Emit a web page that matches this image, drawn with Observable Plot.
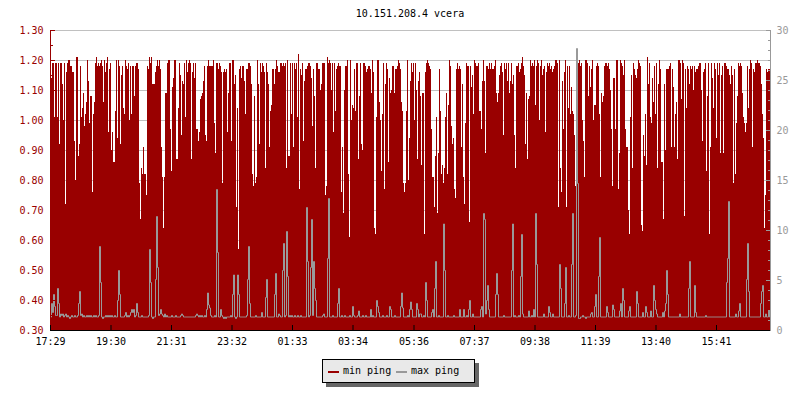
<!DOCTYPE html>
<html>
<head>
<meta charset="utf-8">
<script src="https://cdn.jsdelivr.net/npm/d3@7"></script>
<script src="https://cdn.jsdelivr.net/npm/@observablehq/plot@0.6"></script>
<style>
  body { margin: 0; background: #fff; }
  #wrap { position: relative; width: 800px; height: 400px; font-family: "DejaVu Sans Mono", monospace; font-size: 10px; color: #000; }
  #chart { position: absolute; left: 0; top: 0; }
  #title { position: absolute; left: 0; width: 820px; top: 7px; line-height: 14px; text-align: center; white-space: pre; }
  #legend { position: absolute; left: 322px; top: 359px; width: 153px; height: 24px; box-sizing: border-box;
            border: 1px solid #000; background: #e9e9e9; box-shadow: 4px 4px 0 #666; }
  #legend .sw { position: absolute; top: 11px; width: 11px; height: 2px; }
  #legend .lb { position: absolute; top: 0; line-height: 22px; white-space: pre; }
</style>
</head>
<body>
<div id="wrap">
  <div id="chart"></div>
  <div id="title"></div>
  <div id="legend"></div>
</div>
<script>
// ---- data ----
const title = "10.151.208.4 vcera";
const stepMinutes = 2;           // one sample every 2 minutes over 24 h
const startLabel = "17:29";
const xTickLabels = ["17:29","19:30","21:31","23:32","01:33","03:34","05:36","07:37","09:38","11:39","13:40","15:41"];
const leftTicks = [0.30,0.40,0.50,0.60,0.70,0.80,0.90,1.00,1.10,1.20,1.30];
const leftMinorTicks = [0.35,0.45,0.55,0.65,0.75,0.85,0.95,1.05,1.15,1.25];
const rightTicks = [0,5,10,15,20,25,30];
const rightMinorTicks = [0,1,2,3,4,5,6,7,8,9,10,11,12,13,14,15,16,17,18,19,20,21,22,23,24,25,26,27,28,29,30];
const seriesNames = ["min ping", "max ping"];
const seriesColors = ["#990000", "#999999"];

const minPing = [
  1.17,1.14,1.19,1.19,1.01,1.19,1.19,1.01,1.19,0.92,1.19,1.19,1.12,1.00,1.19,0.72,1.16,1.19,1.20,1.20,
  1.18,1.18,1.16,1.16,0.93,0.80,1.21,1.21,0.88,0.92,1.18,1.01,1.04,1.09,0.98,1.02,1.06,1.20,1.13,0.99,
  1.08,1.08,0.76,1.02,1.06,1.19,1.21,1.18,1.19,1.18,1.19,1.20,1.18,1.06,1.20,1.16,1.19,1.21,0.96,1.17,
  1.19,0.90,0.96,0.86,0.86,1.03,1.20,0.94,1.20,1.18,0.92,1.15,1.18,1.04,1.02,1.20,1.18,1.17,1.19,1.00,
  1.18,1.02,1.18,1.18,1.08,1.18,1.19,1.19,1.17,0.79,0.67,0.84,0.82,0.91,0.82,0.82,0.75,1.18,1.17,1.21,
  1.19,1.21,1.12,1.12,1.12,1.16,1.18,1.20,1.18,1.20,1.17,0.91,0.81,0.64,0.81,1.09,1.09,1.19,1.20,1.20,

  0.97,0.83,1.11,1.14,1.20,1.20,0.87,0.87,1.04,1.19,1.15,0.95,1.13,1.12,1.19,1.01,1.20,1.16,1.19,1.20,
  1.19,0.87,1.16,1.19,1.14,1.19,0.97,0.97,0.93,0.96,1.07,1.08,1.09,1.13,1.18,0.95,0.93,1.18,1.20,1.18,
  1.18,1.18,1.18,1.20,0.99,0.89,1.19,1.19,1.17,1.19,1.18,1.16,0.79,1.16,1.17,1.16,1.17,0.96,1.09,1.19,
  1.19,0.93,1.20,1.20,1.12,1.15,0.71,1.04,0.57,1.17,1.18,1.14,1.18,1.18,1.13,1.02,1.17,1.17,1.19,1.19,
  1.18,1.12,0.82,0.78,1.08,0.79,0.81,1.20,1.12,0.92,1.19,1.16,1.19,1.18,1.16,0.84,1.19,1.16,1.12,0.91,
  1.03,1.05,1.17,1.17,1.12,1.17,1.20,1.18,1.16,1.16,1.19,1.19,1.18,1.19,1.18,1.19,0.84,1.20,0.88,0.88,

  1.19,1.02,1.19,0.91,1.19,1.17,1.19,1.01,1.22,0.77,1.17,1.15,1.19,0.93,1.13,1.17,1.17,1.18,1.19,1.19,
  1.18,1.14,0.98,1.17,1.08,0.84,1.19,1.19,1.17,1.17,1.10,1.12,1.19,1.19,1.19,0.75,0.78,1.21,1.19,1.20,
  1.19,1.10,1.19,0.96,1.19,1.03,1.17,1.18,1.19,1.18,1.18,0.76,0.91,0.69,1.10,1.18,1.18,1.20,0.82,0.61,
  1.20,1.00,1.05,1.04,1.17,1.03,1.19,1.19,0.87,1.08,1.19,0.92,0.90,1.19,1.19,1.18,1.16,1.17,1.18,1.18,
  1.17,1.09,1.20,1.16,0.64,0.62,1.01,1.20,1.20,1.06,1.00,0.83,1.02,1.19,0.77,1.12,1.19,1.17,0.86,1.14,
  1.09,1.10,1.18,1.18,1.09,1.17,1.17,1.18,1.20,1.19,1.17,1.06,1.03,0.79,0.76,0.79,1.03,1.20,0.80,0.94,

  1.13,1.19,1.16,1.19,1.00,1.19,1.10,0.87,1.13,1.16,1.08,0.85,1.09,1.09,0.62,1.16,1.19,1.20,1.19,1.18,
  1.17,0.97,0.81,0.81,0.71,0.88,1.01,0.69,0.89,1.17,1.03,0.82,0.85,0.79,0.84,1.01,1.09,0.82,1.05,1.20,
  1.18,0.98,0.92,0.94,0.77,0.74,1.17,1.19,1.17,1.18,1.17,0.91,1.12,0.81,0.72,0.99,1.19,1.18,1.18,0.66,
  1.18,1.11,1.15,1.02,1.20,1.19,1.18,1.18,1.19,1.03,1.03,0.97,1.13,1.20,1.13,0.89,1.18,1.18,1.17,1.19,
  1.17,1.19,1.17,1.17,1.18,1.20,1.09,1.06,1.09,1.15,1.18,1.19,1.16,0.95,1.19,1.17,1.19,1.13,1.19,1.09,
  1.13,1.19,1.12,1.15,0.95,0.84,1.18,1.18,1.19,1.16,1.17,1.19,1.21,1.18,1.15,0.92,1.09,0.87,1.07,1.08,

  1.20,1.18,1.19,1.18,1.20,1.05,1.18,1.20,1.19,1.00,1.18,1.20,1.15,1.17,1.18,0.96,1.16,1.19,1.18,1.19,
  1.17,1.18,1.16,1.17,1.18,1.20,1.20,1.19,0.71,1.20,0.84,0.76,1.13,0.97,1.16,1.20,0.71,1.18,1.04,1.18,
  1.02,1.11,1.03,1.02,0.95,0.78,0.79,1.18,1.19,1.20,1.18,1.19,1.00,0.93,0.81,1.20,1.20,1.19,1.08,1.18,
  1.11,1.17,1.20,1.00,1.05,1.05,1.18,1.19,1.18,1.02,0.81,1.09,1.06,1.08,1.18,1.19,1.19,1.18,1.19,1.17,
  1.10,0.97,0.78,1.14,1.14,0.97,1.20,1.20,0.77,0.89,1.20,1.19,1.18,1.15,1.20,0.97,0.91,0.91,0.70,0.62,
  1.01,1.15,0.84,1.19,1.17,1.15,1.14,1.17,1.20,1.19,1.18,0.65,0.63,0.95,0.88,1.02,0.85,1.21,1.12,1.19,

  1.01,0.99,1.14,1.06,1.18,1.02,1.19,0.84,1.12,1.20,1.17,0.86,0.86,0.67,1.12,0.90,1.17,1.17,1.17,1.18,
  1.19,0.91,1.17,1.11,0.91,1.02,1.06,0.87,1.20,1.20,1.19,1.07,1.20,1.19,0.68,1.17,1.04,1.18,1.17,1.12,
  1.18,1.17,1.18,1.10,1.18,1.16,1.17,1.17,1.18,1.19,1.19,1.10,0.93,1.16,1.17,1.19,0.83,1.08,1.19,0.62,
  0.91,1.19,1.14,1.04,1.19,1.17,0.94,1.19,1.15,1.19,0.89,1.15,1.18,0.89,1.19,1.19,1.18,1.17,1.17,1.15,
  1.12,1.18,1.15,0.79,1.17,0.82,0.99,1.08,1.19,1.18,1.19,1.18,1.09,1.01,0.99,0.96,0.99,1.18,1.04,1.17,
  1.20,1.19,0.91,1.17,1.16,1.19,1.19,1.20,1.19,1.19,1.18,1.12,1.02,0.94,0.64,0.75,1.17,1.16,1.17,1.17
];

const maxPing = [
  0.345,0.39,0.36,0.42,0.38,0.35,0.35,0.44,0.39,0.345,0.355,0.35,0.355,0.345,0.35,0.355,0.345,0.35,0.345,0.34,
  0.345,0.35,0.345,0.345,0.35,0.345,0.345,0.35,0.39,0.43,0.35,0.355,0.345,0.35,0.345,0.345,0.35,0.345,0.35,0.345,
  0.35,0.345,0.345,0.35,0.345,0.35,0.345,0.345,0.35,0.58,0.46,0.345,0.34,0.345,0.345,0.35,0.345,0.35,0.345,0.35,
  0.345,0.35,0.345,0.345,0.35,0.345,0.345,0.40,0.50,0.42,0.345,0.345,0.345,0.345,0.35,0.36,0.345,0.35,0.345,0.35,
  0.36,0.37,0.36,0.37,0.345,0.35,0.39,0.36,0.345,0.345,0.345,0.35,0.345,0.345,0.345,0.345,0.345,0.345,0.35,0.57,
  0.46,0.345,0.34,0.345,0.345,0.47,0.68,0.51,0.35,0.355,0.37,0.355,0.35,0.345,0.355,0.345,0.35,0.345,0.345,0.345,

  0.345,0.35,0.345,0.345,0.345,0.35,0.345,0.345,0.345,0.345,0.35,0.355,0.35,0.345,0.345,0.345,0.345,0.345,0.345,0.345,
  0.345,0.345,0.345,0.345,0.345,0.35,0.355,0.35,0.345,0.35,0.345,0.35,0.345,0.345,0.35,0.345,0.37,0.425,0.385,0.375,
  0.35,0.345,0.345,0.345,0.35,0.345,0.77,0.56,0.345,0.345,0.37,0.35,0.345,0.34,0.345,0.34,0.345,0.345,0.345,0.345,
  0.35,0.345,0.42,0.485,0.345,0.34,0.345,0.485,0.42,0.345,0.345,0.345,0.345,0.345,0.345,0.345,0.35,0.47,0.58,0.39,
  0.345,0.345,0.345,0.345,0.345,0.35,0.345,0.345,0.345,0.345,0.345,0.36,0.345,0.345,0.345,0.41,0.47,0.345,0.345,0.345,
  0.345,0.345,0.345,0.345,0.42,0.49,0.345,0.345,0.355,0.35,0.345,0.345,0.50,0.59,0.345,0.35,0.63,0.48,0.345,0.35,

  0.345,0.35,0.345,0.345,0.35,0.345,0.345,0.35,0.345,0.345,0.35,0.345,0.345,0.345,0.345,0.345,0.71,0.53,0.345,0.35,
  0.51,0.67,0.35,0.53,0.44,0.40,0.345,0.345,0.345,0.345,0.345,0.345,0.35,0.355,0.345,0.345,0.345,0.54,0.74,0.345,
  0.345,0.345,0.35,0.345,0.345,0.345,0.345,0.39,0.44,0.345,0.345,0.35,0.345,0.345,0.35,0.345,0.345,0.345,0.345,0.35,
  0.345,0.345,0.38,0.35,0.345,0.345,0.345,0.35,0.365,0.345,0.345,0.345,0.35,0.345,0.345,0.35,0.345,0.345,0.345,0.345,
  0.37,0.345,0.35,0.345,0.345,0.345,0.40,0.38,0.36,0.345,0.345,0.345,0.35,0.345,0.345,0.345,0.35,0.345,0.345,0.38,
  0.37,0.345,0.345,0.345,0.35,0.345,0.345,0.345,0.345,0.345,0.38,0.425,0.375,0.345,0.345,0.345,0.345,0.35,0.345,0.37,

  0.395,0.37,0.345,0.345,0.345,0.345,0.39,0.37,0.345,0.355,0.355,0.345,0.345,0.35,0.345,0.46,0.40,0.345,0.345,0.345,
  0.345,0.36,0.37,0.345,0.44,0.53,0.345,0.345,0.35,0.345,0.345,0.345,0.345,0.655,0.50,0.345,0.345,0.35,0.345,0.345,
  0.345,0.345,0.345,0.35,0.345,0.345,0.345,0.345,0.345,0.37,0.345,0.345,0.345,0.37,0.345,0.345,0.35,0.345,0.37,0.40,
  0.345,0.345,0.355,0.345,0.345,0.345,0.345,0.345,0.345,0.345,0.37,0.38,0.345,0.69,0.67,0.355,0.40,0.45,0.37,0.345,
  0.345,0.345,0.345,0.345,0.345,0.42,0.49,0.42,0.345,0.345,0.345,0.345,0.345,0.35,0.345,0.345,0.345,0.345,0.345,0.345,
  0.345,0.50,0.655,0.345,0.35,0.345,0.345,0.345,0.35,0.345,0.48,0.62,0.355,0.345,0.345,0.345,0.345,0.345,0.365,0.345,

  0.345,0.35,0.345,0.37,0.345,0.69,0.52,0.345,0.345,0.345,0.345,0.345,0.345,0.355,0.345,0.345,0.345,0.345,0.38,0.36,
  0.345,0.345,0.355,0.345,0.345,0.345,0.345,0.345,0.345,0.52,0.44,0.345,0.345,0.345,0.39,0.51,0.345,0.345,0.35,0.345,
  0.345,0.52,0.69,0.345,0.345,0.35,1.24,0.79,0.34,0.34,0.345,0.345,0.35,0.345,0.345,0.34,0.345,0.345,0.345,0.345,
  0.355,0.36,0.345,0.345,0.38,0.42,0.345,0.345,0.48,0.61,0.345,0.345,0.345,0.345,0.345,0.345,0.38,0.36,0.345,0.345,
  0.345,0.345,0.385,0.37,0.345,0.345,0.345,0.345,0.345,0.365,0.39,0.345,0.44,0.40,0.345,0.345,0.345,0.345,0.365,0.38,
  0.345,0.345,0.345,0.345,0.345,0.345,0.43,0.39,0.345,0.345,0.345,0.345,0.36,0.345,0.345,0.38,0.36,0.345,0.345,0.345,

  0.365,0.345,0.345,0.45,0.40,0.37,0.355,0.345,0.345,0.345,0.345,0.345,0.36,0.345,0.365,0.39,0.50,0.42,0.345,0.345,
  0.345,0.345,0.345,0.345,0.345,0.345,0.345,0.345,0.345,0.355,0.345,0.345,0.345,0.345,0.345,0.345,0.345,0.345,0.44,0.53,
  0.345,0.345,0.345,0.345,0.45,0.36,0.345,0.345,0.345,0.345,0.345,0.345,0.345,0.345,0.345,0.35,0.345,0.345,0.345,0.345,
  0.345,0.345,0.345,0.345,0.345,0.345,0.345,0.345,0.345,0.345,0.345,0.345,0.345,0.345,0.345,0.345,0.46,0.54,0.73,0.345,
  0.345,0.345,0.345,0.345,0.345,0.355,0.345,0.345,0.365,0.39,0.345,0.345,0.345,0.345,0.345,0.345,0.47,0.59,0.43,0.345,
  0.345,0.345,0.345,0.345,0.345,0.345,0.345,0.345,0.345,0.345,0.39,0.43,0.45,0.345,0.345,0.355,0.345,0.345,0.365,0.345
];

// ---- derived ----
const toMin = s => { const [h, m] = s.split(":").map(Number); return h * 60 + m; };
const start = toMin(startLabel);
const xTickPos = xTickLabels.map(s => (toMin(s) - start + 1440) % 1440);
const labelAt = new Map(xTickPos.map((p, i) => [p, xTickLabels[i]]));
const span = minPing.length * stepMinutes;
const rows = arr => arr.map((v, i) => ({t: i * stepMinutes, v})).concat([{t: span, v: arr[arr.length - 1]}]);
const minRows = rows(minPing);
const maxRows = rows(maxPing);
const yMin = leftTicks[0], yMax = leftTicks[leftTicks.length - 1];
const rightScale = (yMax - yMin) / rightTicks[rightTicks.length - 1];
const r2y = r => yMin + r * rightScale;

const chart = Plot.plot({
  width: 800,
  height: 400,
  marginLeft: 50,
  marginRight: 30,
  marginTop: 30,
  marginBottom: 70,
  style: {fontFamily: "DejaVu Sans Mono, monospace", fontSize: "10px", background: "transparent", color: "#000"},
  x: {domain: [0, span], axis: null},
  y: {domain: [yMin, yMax], axis: null},
  marks: [
    Plot.gridY(leftTicks, {stroke: "#c0c0c0", strokeOpacity: 1}),
    Plot.areaY(minRows, {x: "t", y1: yMin, y2: "v", curve: "step-after", fill: seriesColors[0], shapeRendering: "crispEdges"}),
    Plot.lineY(maxRows, {x: "t", y: "v", curve: "step-after", stroke: seriesColors[1], strokeWidth: 1}),
    Plot.ruleX([0], {stroke: "#990000"}),
    Plot.ruleX([span], {stroke: "#999999"}),
    Plot.axisY(leftTicks, {anchor: "left", tickSize: -5, tickPadding: 12, tickFormat: d => d.toFixed(2), color: "#990000", label: null}),
    Plot.axisY(leftMinorTicks, {anchor: "left", tickSize: -3, tickFormat: () => "", color: "#990000", label: null}),
    Plot.axisY(rightTicks.map(r2y), {anchor: "right", tickSize: -5, tickPadding: 11, tickFormat: y => String(Math.round((y - yMin) / rightScale)), color: "#999999", label: null}),
    Plot.axisY(rightMinorTicks.map(r2y), {anchor: "right", tickSize: -3, tickFormat: () => "", color: "#999999", label: null}),
    Plot.ruleY([yMin], {stroke: "#000"}),
    Plot.axisX(xTickPos, {anchor: "bottom", tickSize: -5, tickPadding: 12.5, tickFormat: d => labelAt.get(d), color: "#000", label: null})
  ]
});
document.getElementById("chart").append(chart);
document.getElementById("title").textContent = title;

const legend = document.getElementById("legend");
const legendPos = [[5, 20], [73, 88]];
seriesNames.forEach((name, i) => {
  const sw = document.createElement("div");
  sw.className = "sw";
  sw.style.left = legendPos[i][0] + "px";
  sw.style.background = seriesColors[i];
  legend.append(sw);
  const lb = document.createElement("div");
  lb.className = "lb";
  lb.style.left = legendPos[i][1] + "px";
  lb.textContent = name;
  legend.append(lb);
});
</script>
</body>
</html>
